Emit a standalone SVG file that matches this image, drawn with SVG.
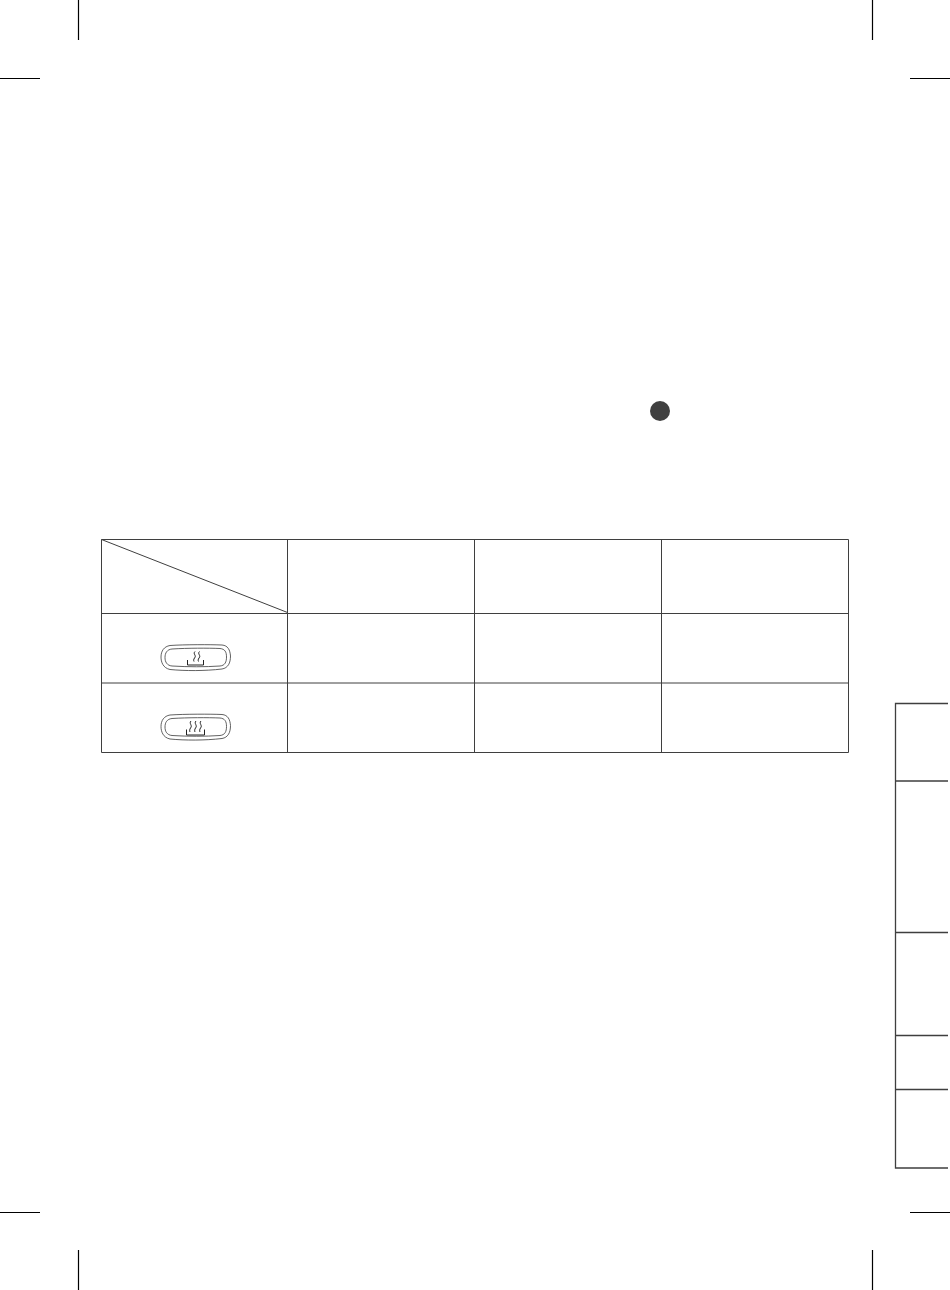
<svg xmlns="http://www.w3.org/2000/svg" width="950" height="1290" viewBox="0 0 950 1290">
<style>
.crop{stroke:#000;stroke-width:1.2;fill:none}
.tbl{stroke:#3f3f3f;stroke-width:1;fill:none}
.tab{stroke:#3f3f3f;stroke-width:1.3;fill:none}
.btn{stroke:#3a3a3a;stroke-width:.8;fill:none}
.sym{stroke:#222;stroke-width:1;fill:none}
</style>
<rect width="950" height="1290" fill="#fff"/>
<g id="crop-marks">
<path class="crop" d="M78.5 0V40M872.5 0V40M0 78.5H40M910 78.5H950M0 1212.500H40M910 1212.500H950M78.500 1250V1290M872.500 1250V1290"/>
</g>
<circle id="dot" cx="660" cy="411" r="10" fill="#404040"/>
<g id="table">
<path class="tbl" d="M101.500 539.500H848.500V752.500H101.500ZM101.500 613.500H848.500M101.500 683H848.500M287.500 539.500V752.500M474.500 539.500V752.500M661.500 539.500V752.500"/>
<path class="tbl" d="M101.500 539.500L287.500 612.500" stroke-width="1.200"/>
</g>
<g id="button-low">
<path class="btn" d="M170 645.500C185 644.500 210 644.500 222 645C228 645.500 230 650 230.500 656C230.500 663 228 668 222 669C205 671 185 671 170 669.500C163 668 161 662 161 657C161 651 164 646.500 170 645.500Z"/>
<path class="btn" d="M172 649C188 648 208 648 220 648.500C225 649 226.500 652 226.500 657C226.500 662 225 665.500 220 666C205 667 188 667 172 666C167 665.500 165 662 165 657.500C165 653 167 649.500 172 649Z"/>
<path class="sym" d="M187.500 660V665H203.500V660M195 651.500C192.500 654 197 655.500 194.500 658C193.500 659.500 193.500 660.500 194 661.500M199.500 651.500C197 654 201.500 655.500 199 658C198 659.500 198 660.500 198.500 661.500"/>
</g>
<g id="button-high">
<path class="btn" d="M170 715C185 714 210 714 222 714.500C228 715 230 719.500 230.500 725.500C230.500 732.500 228 737.500 222 738.500C205 740.500 185 740.500 170 739C163 737.500 161 731.500 161 726.500C161 720.500 164 716 170 715Z"/>
<path class="btn" d="M172 718.500C188 717.500 208 717.500 220 718C225 718.500 226.500 721.500 226.500 726.500C226.500 731.500 225 735 220 735.500C205 736.500 188 736.500 172 735.500C167 735 165 731.500 165 727C165 722.500 167 719 172 718.500Z"/>
<path class="sym" d="M186.500 729.500V735H204.500V729.500M191 721C188.500 723.500 193 725.500 190.500 728C189.500 729.500 189.500 731 190 732M196 721C193.500 723.500 198 725.500 195.500 728C194.500 729.500 194.500 731 195 732M201 721C198.500 723.500 203 725.500 200.500 728C199.500 729.500 199.500 731 200 732"/>
</g>
<g id="side-tabs">
<path class="tab" d="M948 703.500H895.500V1168H948M895.500 781H948M895.500 932.500H948M895.500 1035.500H948M895.500 1089.500H948"/>
</g>
</svg>
